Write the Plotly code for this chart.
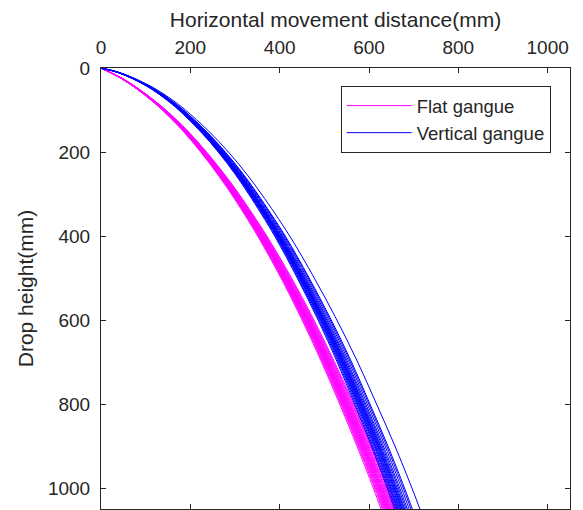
import numpy as np
import plotly.graph_objects as go

# Depth levels (mm) at which the trajectory profiles were read
depth_levels = [0, 10, 25, 50, 75, 100, 150, 200, 250, 300, 400, 500,
                600, 700, 800, 900, 1000, 1050, 1100]

# Mean horizontal distance (mm) of each group at those depths
flat_profile_x = [0, 20, 47, 83, 114, 142, 190, 231, 268, 302, 363, 417,
                  466, 511, 553, 593, 631, 649, 667]
vert_profile_x = [0, 37, 72, 116, 150, 179, 228, 270, 307, 340, 400, 452,
                  500, 544, 584, 623, 659, 676, 693]

# Horizontal distance (mm) of each individual trajectory at 1050 mm depth
flat_landing_x = [627, 630, 632, 634, 636, 638, 639, 641, 642, 644,
                  645, 647, 648, 650, 652, 654, 656, 659, 661, 664]
vert_landing_x = [657, 660, 663, 665, 667, 669, 671, 673, 674, 676,
                  678, 680, 683, 686, 690, 694, 697, 714]

x_ticks = [0, 200, 400, 600, 800, 1000]
y_ticks = [0, 200, 400, 600, 800, 1000]

MAGENTA = "#FF00FF"
BLUE = "#0000FF"
INK = "#262626"
FONT = "Liberation Sans, Arial, sans-serif"

fig = go.Figure()

def add_group(profile, landings, color, name):
    prof = np.array(profile, dtype=float)
    ref = prof[depth_levels.index(1050)]
    for i, land in enumerate(landings):
        fig.add_trace(go.Scatter(
            x=prof * (land / ref), y=depth_levels,
            mode="lines", line=dict(color=color, width=1, shape="spline"),
            name=name, legendgroup=name, showlegend=(i == 0),
            hoverinfo="skip"))

add_group(flat_profile_x, flat_landing_x, MAGENTA, "Flat gangue")
add_group(vert_profile_x, vert_landing_x, BLUE, "Vertical gangue")

axis_common = dict(
    showline=True, linecolor=INK, linewidth=1, mirror="ticks",
    ticks="inside", ticklen=5, tickcolor=INK, tickwidth=1,
    showgrid=False, zeroline=False,
    tickfont=dict(family=FONT, size=19, color=INK),
)

fig.update_layout(
    width=583, height=510,
    margin=dict(l=101, r=13, t=68, b=1, pad=0),
    paper_bgcolor="white", plot_bgcolor="white",
    font=dict(family=FONT, color=INK),
    xaxis=dict(side="top", range=[0, 1050], tickvals=x_ticks,
               ticklabelstandoff=5,
               title=dict(text="Horizontal movement distance(mm)",
                          font=dict(family=FONT, size=21, color=INK), standoff=4),
               **axis_common),
    yaxis=dict(range=[1050, 0], tickvals=y_ticks,
               ticklabelstandoff=6,
               title=dict(text="Drop height(mm)",
                          font=dict(family=FONT, size=21, color=INK), standoff=8),
               **axis_common),
    legend=dict(x=0.511, y=0.959, xanchor="left", yanchor="top",
                bgcolor="white", bordercolor=INK, borderwidth=1,
                font=dict(family=FONT, size=18.5, color=INK),
                itemwidth=65, tracegroupgap=0),
    showlegend=True,
)

fig.write_html("out.html")
